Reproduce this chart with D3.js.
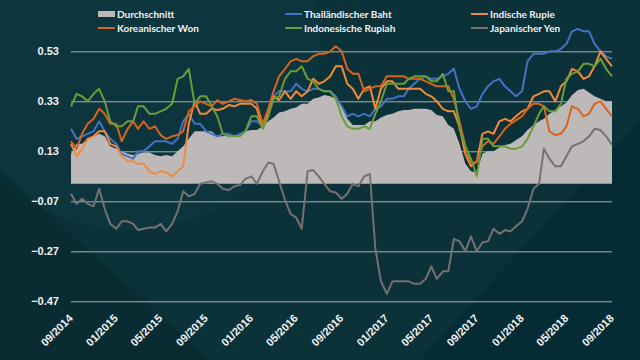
<!DOCTYPE html>
<meta charset="utf-8">
<script src="https://cdn.jsdelivr.net/npm/d3@7"></script>
<style>
body { margin: 0; background: #0b3139; }
svg { display: block; font-family: Lato, "Open Sans", sans-serif; font-weight: bold; }
.tick text { fill: #f2f2f2; }
</style>
<body>
<script>

// semi-monthly points, starting 09/2014
var startDate = "2014-09-01";

var durchschnitt = [0.12,0.16,0.16,0.18,0.19,0.20,0.19,0.15,0.14,0.13,0.12,0.115,0.12,0.125,0.125,0.115,0.11,0.115,0.11,0.13,
  0.15,0.18,0.21,0.21,0.21,0.21,0.19,0.19,0.195,0.195,0.195,0.21,0.215,0.215,0.23,0.25,0.265,0.285,0.29,0.30,
  0.305,0.32,0.32,0.34,0.345,0.355,0.35,0.34,0.31,0.26,0.235,0.235,0.235,0.25,0.25,0.265,0.275,0.28,0.29,0.295,
  0.295,0.30,0.30,0.30,0.295,0.275,0.27,0.235,0.22,0.16,0.08,0.05,0.045,0.12,0.13,0.13,0.145,0.155,0.16,0.175,
  0.19,0.215,0.235,0.25,0.26,0.28,0.295,0.31,0.325,0.355,0.375,0.38,0.365,0.35,0.34,0.33,0.33];

var baht = [0.22,0.18,0.19,0.20,0.21,0.25,0.21,0.18,0.16,0.12,0.11,0.10,0.13,0.13,0.15,0.17,0.17,0.17,0.16,0.18,
  0.25,0.28,0.24,0.24,0.21,0.20,0.19,0.20,0.20,0.19,0.20,0.21,0.25,0.25,0.23,0.30,0.35,0.37,0.37,0.37,
  0.40,0.38,0.37,0.38,0.38,0.37,0.37,0.35,0.31,0.27,0.28,0.27,0.28,0.27,0.30,0.31,0.34,0.34,0.35,0.35,
  0.38,0.40,0.42,0.43,0.42,0.42,0.43,0.44,0.46,0.38,0.33,0.30,0.31,0.36,0.39,0.41,0.42,0.39,0.37,0.35,
  0.37,0.49,0.52,0.52,0.52,0.53,0.53,0.54,0.56,0.61,0.62,0.61,0.61,0.56,0.53,0.51,0.50];

var rupie = [0.16,0.11,0.14,0.18,0.19,0.21,0.21,0.16,0.15,0.11,0.09,0.09,0.08,0.08,0.05,0.04,0.05,0.045,0.03,0.05,
  0.07,0.24,0.33,0.28,0.28,0.30,0.295,0.30,0.315,0.31,0.32,0.32,0.32,0.30,0.22,0.28,0.35,0.335,0.37,0.34,
  0.37,0.35,0.37,0.42,0.40,0.41,0.43,0.47,0.47,0.40,0.38,0.34,0.38,0.39,0.30,0.38,0.41,0.41,0.38,0.38,
  0.38,0.38,0.38,0.36,0.35,0.33,0.30,0.29,0.29,0.23,0.12,0.07,0.09,0.20,0.21,0.20,0.25,0.26,0.25,0.27,
  0.29,0.30,0.35,0.36,0.37,0.37,0.33,0.39,0.41,0.46,0.45,0.42,0.43,0.47,0.53,0.50,0.47];

var won = [0.17,0.14,0.20,0.24,0.26,0.30,0.28,0.24,0.24,0.17,0.22,0.25,0.22,0.25,0.22,0.23,0.195,0.18,0.19,0.195,
  0.21,0.29,0.31,0.33,0.32,0.31,0.335,0.32,0.33,0.34,0.335,0.33,0.335,0.32,0.24,0.30,0.37,0.43,0.46,0.49,
  0.50,0.49,0.49,0.51,0.52,0.52,0.53,0.55,0.53,0.46,0.44,0.44,0.37,0.38,0.39,0.39,0.43,0.43,0.43,0.43,
  0.42,0.42,0.42,0.41,0.40,0.39,0.39,0.39,0.34,0.25,0.15,0.08,0.09,0.15,0.17,0.16,0.19,0.22,0.24,0.255,
  0.27,0.30,0.32,0.32,0.31,0.21,0.195,0.20,0.23,0.31,0.30,0.27,0.28,0.32,0.33,0.30,0.27];

var rupiah = [0.31,0.36,0.35,0.33,0.36,0.38,0.33,0.25,0.23,0.23,0.25,0.25,0.31,0.31,0.28,0.28,0.29,0.30,0.32,0.42,
  0.43,0.46,0.32,0.35,0.35,0.31,0.27,0.20,0.19,0.19,0.19,0.21,0.27,0.27,0.22,0.27,0.34,0.35,0.42,0.45,
  0.45,0.47,0.42,0.41,0.38,0.37,0.37,0.34,0.27,0.23,0.22,0.22,0.23,0.22,0.28,0.33,0.40,0.40,0.40,0.40,
  0.42,0.43,0.43,0.43,0.41,0.41,0.44,0.37,0.37,0.22,0.15,0.10,0.03,0.18,0.18,0.15,0.15,0.15,0.14,0.14,
  0.15,0.18,0.23,0.28,0.31,0.29,0.29,0.32,0.42,0.44,0.45,0.48,0.48,0.47,0.50,0.46,0.43];

var yen = [-0.04,-0.08,-0.06,-0.08,-0.09,-0.02,-0.10,-0.16,-0.18,-0.15,-0.15,-0.16,-0.185,-0.18,-0.175,-0.175,-0.16,-0.19,-0.16,-0.11,
  -0.03,-0.05,-0.04,0.0,0.005,0.01,0.0,-0.02,-0.025,-0.01,-0.005,0.02,0.03,0.0,0.05,0.085,0.08,0.01,-0.065,-0.12,
  -0.135,-0.18,0.05,0.055,0.03,0.0,-0.03,-0.035,-0.06,-0.04,0.0,-0.01,0.03,0.04,-0.26,-0.39,-0.44,-0.39,-0.39,-0.39,
  -0.39,-0.40,-0.40,-0.38,-0.33,-0.38,-0.35,-0.35,-0.22,-0.23,-0.27,-0.21,-0.27,-0.235,-0.23,-0.18,-0.20,-0.185,-0.19,-0.17,
  -0.15,-0.10,-0.02,0.0,0.14,0.10,0.07,0.07,0.11,0.15,0.16,0.17,0.19,0.22,0.215,0.19,0.155];

var yTicks = [-0.47, -0.27, -0.07, 0.13, 0.33, 0.53];

var names = ["Durchschnitt", "Thailändischer Baht", "Indische Rupie", "Koreanischer Won", "Indonesische Rupiah", "Japanischer Yen"];
var colors = ["#bdb9b9", "#4472c4", "#f18a3a", "#d9641c", "#6a9d3a", "#767171"];

var width = 640, height = 360;

var svg = d3.select("body").append("svg")
    .attr("width", width)
    .attr("height", height);

// background shading
svg.append("rect").attr("width", width).attr("height", height).attr("fill", "#0b3139");
svg.append("circle").attr("cx", 130).attr("cy", 40).attr("r", 190).attr("fill", "#0f3941").attr("opacity", 0.6);
svg.append("path").attr("d", "M0,360 L0,170 L210,360 Z").attr("fill", "#06292f").attr("opacity", 0.6);
svg.append("path").attr("d", "M640,0 L640,360 L420,360 L640,120 Z").attr("fill", "#032a33").attr("opacity", 0.7);

var parse = d3.timeParse("%Y-%m-%d");
var t0 = parse(startDate);
var dates = durchschnitt.map(function(d, i) {
    var m = d3.timeMonth.offset(t0, Math.floor(i / 2));
    return i % 2 ? d3.timeDay.offset(m, 15) : m;
});

var x = d3.scaleTime()
    .domain([t0, parse("2018-09-01")])
    .range([71, 612]);

var y = d3.scaleLinear()
    .domain([-0.47, 0.63])
    .range([301.3, 26.3]);

// gridlines
svg.append("g")
    .attr("transform", "translate(71,0)")
    .call(d3.axisLeft(y).tickValues(yTicks).tickSize(-541).tickFormat(d3.format(".2f")).tickPadding(12))
    .call(function(g) {
        g.select(".domain").remove();
        g.selectAll(".tick line").attr("stroke", "#a9b1b2").attr("stroke-width", 1);
        g.selectAll(".tick text").style("font-size", "11px");
    });

// average area
svg.append("path")
    .datum(durchschnitt)
    .attr("fill", colors[0])
    .attr("d", d3.area()
        .x(function(d, i) { return x(dates[i]); })
        .y0(y(0))
        .y1(function(d) { return y(d); }));

var series = [baht, rupie, won, rupiah, yen];
var line = d3.line()
    .x(function(d, i) { return x(dates[i]); })
    .y(function(d) { return y(d); });

series.forEach(function(s, k) {
    svg.append("path")
        .datum(s)
        .attr("fill", "none")
        .attr("stroke", colors[k + 1])
        .attr("stroke-width", 2)
        .attr("stroke-linejoin", "round")
        .attr("d", line);
});

// x axis labels
svg.append("g")
    .attr("transform", "translate(0,306)")
    .call(d3.axisBottom(x).ticks(d3.timeMonth.every(4)).tickFormat(d3.timeFormat("%m/%Y")).tickSize(0))
    .call(function(g) {
        g.select(".domain").remove();
        g.selectAll(".tick text")
            .style("font-size", "11px")
            .style("text-anchor", "end")
            .attr("x", 0).attr("y", 0).attr("dy", 0)
            .attr("transform", "translate(2,13) rotate(-45)");
    });

// legend
var legendX = [98, 285, 471];
var legend = svg.selectAll(".legend").data(names).enter().append("g")
    .attr("class", "legend")
    .attr("transform", function(d, i) { return "translate(" + legendX[i % 3] + "," + (i < 3 ? 14 : 28) + ")"; });

legend.each(function(d, i) {
    var g = d3.select(this);
    if (i === 0) {
        g.append("rect").attr("x", 0).attr("y", -3).attr("width", 17).attr("height", 6).attr("fill", colors[0]);
    } else {
        g.append("line").attr("x1", 0).attr("x2", 17).attr("y1", 0).attr("y2", 0)
            .attr("stroke", colors[i]).attr("stroke-width", 2);
    }
    g.append("text").attr("x", 19).attr("dy", "0.35em")
        .attr("fill", "#f2f2f2").style("font-size", "10px").text(d);
});

</script>
</body>
